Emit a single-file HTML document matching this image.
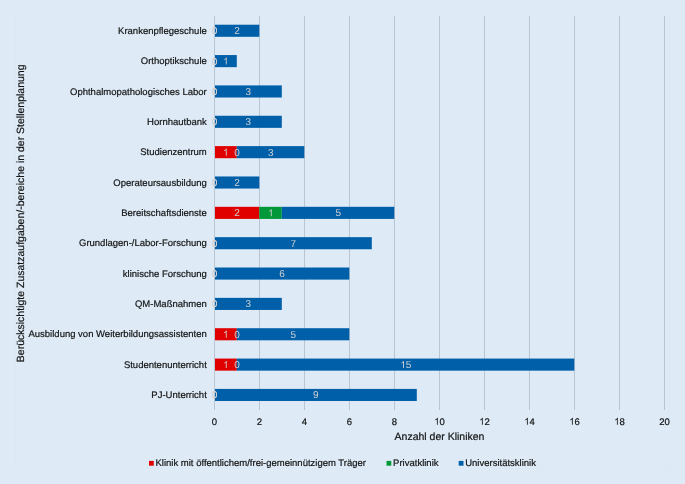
<!DOCTYPE html>
<html><head><meta charset="utf-8"><style>
html,body{margin:0;padding:0;background:#deebf7;}
svg{display:block;will-change:transform;}
text{font-family:"Liberation Sans",sans-serif;text-rendering:geometricPrecision;}
.t{font-size:9.5px;fill:#141414;stroke:#141414;stroke-width:0.2px;}
.t2{font-size:10.5px;fill:#141414;stroke:#141414;stroke-width:0.2px;}
.l{font-size:10px;fill:#d0d0d0;}
</style></head><body>
<svg width="685" height="484" viewBox="0 0 685 484">
<rect x="0" y="0" width="685" height="484" fill="#deebf7"/>
<rect x="15.5" y="15.5" width="654" height="453" fill="none" stroke="#dbe8f5" stroke-width="1"/>
<line x1="214.5" y1="16.0" x2="214.5" y2="410.0" stroke="#bac5d2" stroke-width="1"/>
<text x="211.858" y="424.700" class="t">0</text>
<line x1="259.5" y1="16.0" x2="259.5" y2="410.0" stroke="#bac5d2" stroke-width="1"/>
<text x="256.858" y="424.700" class="t">2</text>
<line x1="304.5" y1="16.0" x2="304.5" y2="410.0" stroke="#bac5d2" stroke-width="1"/>
<text x="301.858" y="424.700" class="t">4</text>
<line x1="349.5" y1="16.0" x2="349.5" y2="410.0" stroke="#bac5d2" stroke-width="1"/>
<text x="346.858" y="424.700" class="t">6</text>
<line x1="394.5" y1="16.0" x2="394.5" y2="410.0" stroke="#bac5d2" stroke-width="1"/>
<text x="391.858" y="424.700" class="t">8</text>
<line x1="439.5" y1="16.0" x2="439.5" y2="410.0" stroke="#bac5d2" stroke-width="1"/>
<path class="t" transform="translate(434.217,424.700) scale(0.004639,-0.004639)" d="M763 0H583V1147Q518 1085 412 1023T223 930V1104Q374 1175 487 1276T647 1472H763Z"/>
<text x="439.500" y="424.700" class="t">0</text>
<line x1="484.5" y1="16.0" x2="484.5" y2="410.0" stroke="#bac5d2" stroke-width="1"/>
<path class="t" transform="translate(479.217,424.700) scale(0.004639,-0.004639)" d="M763 0H583V1147Q518 1085 412 1023T223 930V1104Q374 1175 487 1276T647 1472H763Z"/>
<text x="484.500" y="424.700" class="t">2</text>
<line x1="529.5" y1="16.0" x2="529.5" y2="410.0" stroke="#bac5d2" stroke-width="1"/>
<path class="t" transform="translate(524.217,424.700) scale(0.004639,-0.004639)" d="M763 0H583V1147Q518 1085 412 1023T223 930V1104Q374 1175 487 1276T647 1472H763Z"/>
<text x="529.500" y="424.700" class="t">4</text>
<line x1="574.5" y1="16.0" x2="574.5" y2="410.0" stroke="#bac5d2" stroke-width="1"/>
<path class="t" transform="translate(569.217,424.700) scale(0.004639,-0.004639)" d="M763 0H583V1147Q518 1085 412 1023T223 930V1104Q374 1175 487 1276T647 1472H763Z"/>
<text x="574.500" y="424.700" class="t">6</text>
<line x1="619.5" y1="16.0" x2="619.5" y2="410.0" stroke="#bac5d2" stroke-width="1"/>
<path class="t" transform="translate(614.217,424.700) scale(0.004639,-0.004639)" d="M763 0H583V1147Q518 1085 412 1023T223 930V1104Q374 1175 487 1276T647 1472H763Z"/>
<text x="619.500" y="424.700" class="t">8</text>
<line x1="664.5" y1="16.0" x2="664.5" y2="410.0" stroke="#bac5d2" stroke-width="1"/>
<text x="659.217" y="424.700" class="t">2</text>
<text x="664.500" y="424.700" class="t">0</text>
<text x="206.8" y="33.86" text-anchor="end" class="t">Krankenpflegeschule</text>
<rect x="215.00" y="24.71" width="44.30" height="12.1" fill="#005fa9"/>
<text x="206.8" y="64.21" text-anchor="end" class="t">Orthoptikschule</text>
<rect x="215.00" y="55.06" width="21.80" height="12.1" fill="#005fa9"/>
<text x="206.8" y="94.56" text-anchor="end" class="t">Ophthalmopathologisches Labor</text>
<rect x="215.00" y="85.41" width="66.80" height="12.1" fill="#005fa9"/>
<text x="206.8" y="124.91" text-anchor="end" class="t">Hornhautbank</text>
<rect x="215.00" y="115.76" width="66.80" height="12.1" fill="#005fa9"/>
<text x="206.8" y="155.26" text-anchor="end" class="t">Studienzentrum</text>
<rect x="215.00" y="146.11" width="21.80" height="12.1" fill="#e00000"/>
<rect x="236.80" y="146.11" width="67.50" height="12.1" fill="#005fa9"/>
<text x="206.8" y="185.61" text-anchor="end" class="t">Operateursausbildung</text>
<rect x="215.00" y="176.46" width="44.30" height="12.1" fill="#005fa9"/>
<text x="206.8" y="215.96" text-anchor="end" class="t">Bereitschaftsdienste</text>
<rect x="215.00" y="206.81" width="44.30" height="12.1" fill="#e00000"/>
<rect x="259.30" y="206.81" width="22.50" height="12.1" fill="#009839"/>
<rect x="281.80" y="206.81" width="112.50" height="12.1" fill="#005fa9"/>
<text x="206.8" y="246.31" text-anchor="end" class="t">Grundlagen-/Labor-Forschung</text>
<rect x="215.00" y="237.16" width="156.80" height="12.1" fill="#005fa9"/>
<text x="206.8" y="276.66" text-anchor="end" class="t">klinische Forschung</text>
<rect x="215.00" y="267.51" width="134.30" height="12.1" fill="#005fa9"/>
<text x="206.8" y="307.01" text-anchor="end" class="t">QM-Maßnahmen</text>
<rect x="215.00" y="297.86" width="66.80" height="12.1" fill="#005fa9"/>
<text x="206.8" y="337.36" text-anchor="end" class="t">Ausbildung von Weiterbildungsassistenten</text>
<rect x="215.00" y="328.21" width="21.80" height="12.1" fill="#e00000"/>
<rect x="236.80" y="328.21" width="112.50" height="12.1" fill="#005fa9"/>
<text x="206.8" y="367.71" text-anchor="end" class="t">Studentenunterricht</text>
<rect x="215.00" y="358.56" width="21.80" height="12.1" fill="#e00000"/>
<rect x="236.80" y="358.56" width="337.50" height="12.1" fill="#005fa9"/>
<text x="206.8" y="398.06" text-anchor="end" class="t">PJ-Unterricht</text>
<rect x="215.00" y="388.91" width="201.80" height="12.1" fill="#005fa9"/>
<text x="211.719" y="34.260" class="l">0</text>
<text x="211.719" y="34.260" class="l">0</text>
<text x="234.219" y="34.260" class="l">2</text>
<text x="211.719" y="64.610" class="l">0</text>
<text x="211.719" y="64.610" class="l">0</text>
<path class="l" transform="translate(222.969,64.610) scale(0.004883,-0.004883)" d="M763 0H583V1147Q518 1085 412 1023T223 930V1104Q374 1175 487 1276T647 1472H763Z"/>
<text x="211.719" y="94.960" class="l">0</text>
<text x="211.719" y="94.960" class="l">0</text>
<text x="245.469" y="94.960" class="l">3</text>
<text x="211.719" y="125.310" class="l">0</text>
<text x="211.719" y="125.310" class="l">0</text>
<text x="245.469" y="125.310" class="l">3</text>
<path class="l" transform="translate(222.969,155.660) scale(0.004883,-0.004883)" d="M763 0H583V1147Q518 1085 412 1023T223 930V1104Q374 1175 487 1276T647 1472H763Z"/>
<text x="234.219" y="155.660" class="l">0</text>
<text x="267.969" y="155.660" class="l">3</text>
<text x="211.719" y="186.010" class="l">0</text>
<text x="211.719" y="186.010" class="l">0</text>
<text x="234.219" y="186.010" class="l">2</text>
<text x="234.219" y="216.360" class="l">2</text>
<path class="l" transform="translate(267.969,216.360) scale(0.004883,-0.004883)" d="M763 0H583V1147Q518 1085 412 1023T223 930V1104Q374 1175 487 1276T647 1472H763Z"/>
<text x="335.469" y="216.360" class="l">5</text>
<text x="211.719" y="246.710" class="l">0</text>
<text x="211.719" y="246.710" class="l">0</text>
<text x="290.469" y="246.710" class="l">7</text>
<text x="211.719" y="277.060" class="l">0</text>
<text x="211.719" y="277.060" class="l">0</text>
<text x="279.219" y="277.060" class="l">6</text>
<text x="211.719" y="307.410" class="l">0</text>
<text x="211.719" y="307.410" class="l">0</text>
<text x="245.469" y="307.410" class="l">3</text>
<path class="l" transform="translate(222.969,337.760) scale(0.004883,-0.004883)" d="M763 0H583V1147Q518 1085 412 1023T223 930V1104Q374 1175 487 1276T647 1472H763Z"/>
<text x="234.219" y="337.760" class="l">0</text>
<text x="290.469" y="337.760" class="l">5</text>
<path class="l" transform="translate(222.969,368.110) scale(0.004883,-0.004883)" d="M763 0H583V1147Q518 1085 412 1023T223 930V1104Q374 1175 487 1276T647 1472H763Z"/>
<text x="234.219" y="368.110" class="l">0</text>
<path class="l" transform="translate(400.188,368.110) scale(0.004883,-0.004883)" d="M763 0H583V1147Q518 1085 412 1023T223 930V1104Q374 1175 487 1276T647 1472H763Z"/>
<text x="405.750" y="368.110" class="l">5</text>
<text x="211.719" y="398.460" class="l">0</text>
<text x="211.719" y="398.460" class="l">0</text>
<text x="312.969" y="398.460" class="l">9</text>
<text x="439.5" y="439.6" text-anchor="middle" class="t2">Anzahl der Kliniken</text>
<text transform="translate(23.8,213.3) rotate(-90)" x="0" y="0" text-anchor="middle" class="t2">Berücksichtigte Zusatzaufgaben/-bereiche in der Stellenplanung</text>
<rect x="149" y="460.9" width="4.8" height="4.8" fill="#e00000"/>
<text x="155.5" y="466.4" class="t">Klinik mit öffentlichem/frei-gemeinnützigem Träger</text>
<rect x="386.5" y="460.9" width="4.8" height="4.8" fill="#009839"/>
<text x="393.1" y="466.4" class="t">Privatklinik</text>
<rect x="458.7" y="460.9" width="4.8" height="4.8" fill="#005fa9"/>
<text x="465.2" y="466.4" class="t">Universitätsklinik</text>
</svg>
</body></html>
